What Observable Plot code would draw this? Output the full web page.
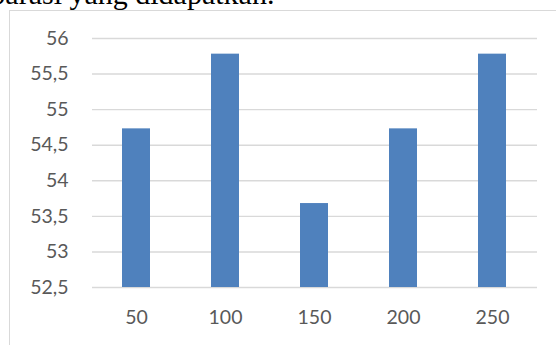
<!DOCTYPE html>
<html>
<head>
<meta charset="utf-8">
<script src="https://cdn.jsdelivr.net/npm/d3@7"></script>
<script src="https://cdn.jsdelivr.net/npm/@observablehq/plot@0.6"></script>
<style>
  html, body { margin: 0; padding: 0; background: #fff; overflow: hidden; }
  body { width: 556px; height: 345px; position: relative; }
  .para {
    position: absolute; left: -63px; top: -21px; white-space: nowrap;
    font-family: "Liberation Serif", "Times New Roman", serif;
    font-size: 30px; line-height: 30px; color: #000;
  }
  .frame {
    position: absolute; left: 9px; top: 10px; width: 700px; height: 500px;
    border: 1.5px solid #d9d9d9; box-sizing: border-box;
  }
  #chart { position: absolute; left: 0; top: 0; }
</style>
</head>
<body>
<div class="para">komparasi yang didapatkan.</div>
<div class="frame"></div>
<div id="chart"></div>
<script>
// Concentration levels and the measured values for each
const categories = ["50", "100", "150", "200", "250"];
const values = [54.73, 55.78, 53.68, 54.73, 55.78];
const yTicks = [52.5, 53, 53.5, 54, 54.5, 55, 55.5, 56];

const data = categories.map((c, i) => ({ category: c, value: values[i] }));
const decimalComma = d => String(d).replace(".", ",");

const chart = Plot.plot({
  width: 556,
  height: 345,
  marginLeft: 92,
  marginRight: 19,
  marginTop: 38,
  marginBottom: 58,
  style: { fontFamily: "Lato, 'Open Sans', sans-serif", fontSize: "19.5px", color: "#595959", background: "transparent" },
  x: { domain: categories, paddingInner: 0.685, paddingOuter: 0.3425, label: null },
  y: { domain: [52.5, 56], label: null },
  marks: [
    Plot.ruleY(yTicks, { stroke: "#d9d9d9", strokeWidth: 1.4 }),
    Plot.barY(data, { x: "category", y1: 52.5, y2: "value", fill: "#4f81bd" }),
    Plot.axisY({ ticks: yTicks, tickSize: 0, tickPadding: 24, tickFormat: decimalComma, fill: "#595959", label: null }),
    Plot.axisX({ tickSize: 0, tickPadding: 23, fill: "#595959", label: null })
  ]
});
document.getElementById("chart").appendChild(chart);
</script>
</body>
</html>
